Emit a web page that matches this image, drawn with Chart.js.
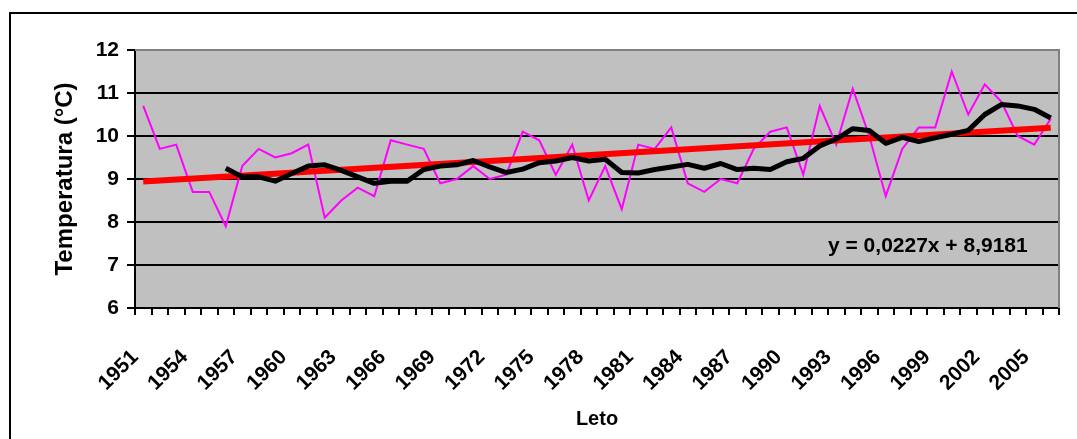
<!DOCTYPE html>
<html>
<head>
<meta charset="utf-8">
<script src="https://cdn.jsdelivr.net/npm/chart.js@4/dist/chart.umd.min.js"></script>
<style>
  html, body { margin: 0; padding: 0; background: #fff; }
  #wrap { position: relative; width: 1077px; height: 439px; overflow: hidden; }
  #frame { position: absolute; left: 9px; top: 12px; width: 1100px; height: 460px;
           border-left: 2px solid #000; border-top: 2px solid #000; }
  canvas { position: absolute; left: 0; top: 0; }
</style>
</head>
<body>
<div id="wrap">
  <div id="frame"></div>
  <canvas id="chart" width="1077" height="439"></canvas>
</div>
<script>
const years = [];
for (let y = 1951; y <= 2006; y++) years.push(String(y));

// annual summer temperature (magenta)
const temperature = [
  10.7, 9.7, 9.8, 8.7, 8.7, 7.9, 9.3, 9.7, 9.5, 9.6,
  9.8, 8.1, 8.5, 8.8, 8.6, 9.9, 9.8, 9.7, 8.9, 9.0,
  9.3, 9.0, 9.1, 10.1, 9.9, 9.1, 9.8, 8.5, 9.3, 8.3,
  9.8, 9.7, 10.2, 8.9, 8.7, 9.0, 8.9, 9.7, 10.1, 10.2,
  9.1, 10.7, 9.8, 11.1, 10.0, 8.6, 9.7, 10.2, 10.2, 11.5,
  10.5, 11.2, 10.8, 10.0, 9.8, 10.4
];

// moving average (black)
const movingAvg = [
  null, null, null, null, null, 9.25, 9.05, 9.05, 8.95, 9.13,
  9.3, 9.33, 9.2, 9.05, 8.9, 8.95, 8.95, 9.22, 9.3, 9.33,
  9.43, 9.28, 9.15, 9.23, 9.38, 9.42, 9.5, 9.42, 9.46, 9.15,
  9.14, 9.22, 9.28, 9.34, 9.25, 9.36, 9.22, 9.25, 9.22, 9.4,
  9.48, 9.77, 9.93, 10.17, 10.13, 9.83, 9.97, 9.87, 9.96, 10.04,
  10.13, 10.5, 10.73, 10.7, 10.62, 10.42
];

// linear trend (red): end points only
const trendEnds = { first: 8.94, last: 10.19 };
const trend = years.map((_, i) => i === 0 ? trendEnds.first : (i === years.length - 1 ? trendEnds.last : null));

const equation = "y = 0,0227x + 8,9181";
const yTitle = "Temperatura (°C)";
const xTitle = "Leto";

const FONT = "Arial, 'Liberation Sans', sans-serif";

const plotBg = {
  id: "plotBg",
  beforeDraw(chart) {
    const { ctx, chartArea: a } = chart;
    ctx.save();
    ctx.fillStyle = "#c0c0c0";
    ctx.fillRect(a.left, a.top, a.right - a.left, a.bottom - a.top);
    ctx.restore();
  },
  afterDatasetsDraw(chart) {
    const { ctx, chartArea: a } = chart;
    ctx.save();
    ctx.strokeStyle = "#808080";
    ctx.lineWidth = 2;
    ctx.beginPath();
    ctx.moveTo(a.left, a.top);
    ctx.lineTo(a.right, a.top);
    ctx.lineTo(a.right, a.bottom);
    ctx.stroke();
    ctx.fillStyle = "#000";
    ctx.font = "bold 21px " + FONT;
    ctx.textBaseline = "middle";
    ctx.textAlign = "left";
    ctx.fillText(equation, 828, 246);
    ctx.restore();
  }
};

new Chart(document.getElementById("chart"), {
  type: "line",
  data: {
    labels: years,
    datasets: [
      { label: "Temperatura", data: temperature, borderColor: "#ff00ff", borderWidth: 2,
        pointRadius: 0, tension: 0, order: 2 },
      { label: "Trend", data: trend, borderColor: "#ff0000", borderWidth: 6,
        pointRadius: 0, spanGaps: true, order: 1 },
      { label: "Drseče povprečje", data: movingAvg, borderColor: "#000", borderWidth: 5,
        pointRadius: 0, tension: 0, order: 0, borderJoinStyle: "round" }
    ]
  },
  options: {
    responsive: false,
    animation: false,
    layout: { padding: { left: 50, top: 50, right: 18, bottom: 0 } },
    plugins: { legend: { display: false }, tooltip: { enabled: false } },
    scales: {
      x: {
        offset: true,
        afterFit: (s) => { s.height = 131; s.paddingLeft = 0; s.paddingRight = 0; },
        grid: { offset: true, drawOnChartArea: false, drawTicks: true, tickLength: 7,
                color: "#000", lineWidth: 2 },
        border: { color: "#000", width: 2 },
        ticks: {
          autoSkip: false, maxRotation: 45, minRotation: 45, padding: 30, labelOffset: -8,
          color: "#000", font: { family: FONT, size: 21, weight: "bold" },
          callback: (v, i) => i % 3 === 0 ? years[i] : ""
        },
        title: { display: true, text: xTitle, color: "#000", padding: { top: 0, bottom: 8 },
                 font: { family: FONT, size: 20, weight: "bold" } }
      },
      y: {
        min: 6, max: 12,
        afterFit: (s) => { s.width = 85; },
        grid: { color: (c) => c.tick && c.tick.value === 12 ? "#808080" : "#000",
                tickColor: "#000", lineWidth: 2, tickLength: 8 },
        border: { color: "#000", width: 2 },
        ticks: { stepSize: 1, padding: 8, color: "#000",
                 font: { family: FONT, size: 21, weight: "bold" } },
        title: { display: true, text: yTitle, color: "#000", padding: { top: 1, bottom: 0 },
                 font: { family: FONT, size: 24, weight: "bold" } }
      }
    }
  },
  plugins: [plotBg]
});
</script>
</body>
</html>
